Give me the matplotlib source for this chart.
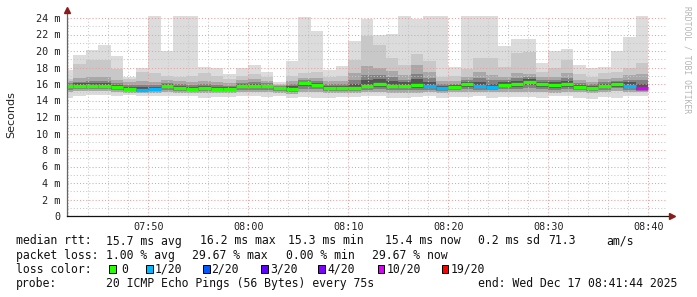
import matplotlib
matplotlib.use("Agg")
import matplotlib.pyplot as plt
import matplotlib.dates as mdates
from matplotlib.patches import Rectangle
from matplotlib.ticker import MultipleLocator, FuncFormatter
import numpy as np
import pandas as pd

# one bin every 75 s, last bin ends 08:40:00
bin_end = pd.date_range(end="2025-12-17 08:40:00", periods=47, freq="75s")
step = pd.Timedelta(seconds=75)

# median rtt per bin (ms)
median_ms = [15.7, 15.8, 15.8, 15.8, 15.6, 15.4, 15.3, 15.4, 15.7, 15.5,
             15.4, 15.5, 15.4, 15.4, 15.7, 15.8, 15.7, 15.5, 15.4, 16.1,
             15.9, 15.5, 15.5, 15.5, 15.8, 16.0, 15.8, 15.8, 15.9, 15.8,
             15.5, 15.6, 16.0, 15.8, 15.6, 15.9, 16.0, 16.3, 16.0, 15.9,
             16.0, 15.6, 15.5, 15.8, 16.0, 15.8, 15.5]
# packet loss per bin (%)
loss_pct = [0, 0, 0, 0, 0, 0, 5, 5, 0, 0,
            0, 0, 0, 0, 0, 0, 0, 0, 0, 0,
            0, 0, 0, 0, 0, 0, 0, 0, 0, 5,
            5, 0, 0, 5, 5, 0, 0, 0, 0, 0,
            0, 0, 0, 0, 0, 5, 29.67]
# smoke: spread of the 20 pings per bin (ms)
ping_max = [17.7, 19.5, 20.1, 20.7, 19.4, 16.9, 18.0, 24.3, 20.0, 24.3,
            24.3, 18.0, 17.9, 17.2, 18.0, 18.3, 17.4, 16.2, 18.8, 24.1,
            22.4, 17.7, 18.2, 21.2, 23.9, 22.0, 22.0, 24.2, 23.9, 24.3,
            24.3, 18.1, 24.3, 24.3, 24.3, 20.6, 21.4, 21.5, 18.6, 20.0,
            20.3, 18.3, 18.0, 18.1, 20.0, 21.7, 24.3]
ping_p90 = [16.6, 18.4, 18.9, 18.9, 17.8, 16.6, 17.5, 17.3, 17.0, 16.9,
            17.0, 17.3, 17.0, 16.6, 17.0, 17.2, 16.9, 16.0, 17.0, 17.3,
            17.5, 16.9, 17.0, 18.9, 21.8, 20.7, 19.1, 18.3, 19.6, 18.8,
            16.9, 17.0, 17.8, 19.1, 19.1, 18.1, 19.7, 19.9, 17.5, 18.0,
            18.9, 17.2, 16.9, 17.3, 17.5, 18.0, 18.6]
ping_hi = [16.4, 16.7, 16.8, 16.9, 16.5, 16.2, 16.4, 16.3, 16.5, 16.4,
           16.3, 16.4, 16.3, 16.1, 16.5, 16.6, 16.4, 15.9, 16.4, 16.7,
           16.7, 16.4, 16.4, 17.3, 18.2, 17.9, 17.6, 17.1, 18.3, 17.4,
           16.4, 16.4, 16.9, 17.4, 17.1, 16.9, 17.3, 17.2, 16.9, 16.9,
           17.3, 16.5, 16.3, 16.6, 16.7, 17.1, 17.2]
ping_lo = [15.0, 15.1, 15.1, 15.1, 15.0, 14.9, 14.9, 14.9, 15.0, 14.9,
           14.9, 14.9, 14.9, 14.9, 15.0, 15.0, 15.0, 14.9, 14.8, 15.0,
           15.0, 14.9, 14.9, 14.9, 15.0, 15.0, 14.9, 14.9, 14.9, 15.0,
           14.9, 15.0, 15.0, 15.0, 15.0, 15.0, 15.0, 15.0, 15.0, 14.9,
           15.0, 15.0, 14.9, 15.0, 15.1, 15.0, 15.0]
ping_min = [14.3, 14.6, 14.7, 14.7, 14.5, 14.7, 14.6, 14.5, 14.6, 14.5,
            14.5, 14.3, 14.4, 14.4, 14.5, 14.5, 14.4, 14.6, 14.3, 14.4,
            14.3, 14.3, 14.4, 14.4, 14.5, 14.5, 14.3, 14.3, 14.4, 14.6,
            14.3, 14.4, 14.4, 14.5, 14.3, 14.4, 14.4, 14.4, 14.3, 14.5,
            14.5, 14.3, 14.2, 14.4, 14.3, 14.6, 14.5]

loss_steps = [0, 1, 2, 3, 4, 10, 19]
loss_colors = ["#26ff00", "#00b8ff", "#0059ff", "#5e00ff", "#7e00ff", "#dd00ff", "#ff0000"]
loss_labels = ["0", "1/20", "2/20", "3/20", "4/20", "10/20", "19/20"]

W, H = 697, 297
fig = plt.figure(figsize=(W / 100, H / 100), dpi=100)
fig.patch.set_facecolor("white")
ax = fig.add_axes([66.7 / W, 81 / H, 600 / W, 200 / H])
ax.set_facecolor("white")

starts = mdates.date2num(bin_end - step)
ends = mdates.date2num(bin_end)
width = ends[0] - starts[0]
med = np.array(median_ms)
lo = np.array(ping_lo)
hi = np.array(ping_hi)

def band(bottom, top, color):
    bottom = np.asarray(bottom)
    top = np.asarray(top)
    ax.bar(starts, top - bottom, width=width, bottom=bottom, align="edge",
           color=color, linewidth=0, zorder=1)

# smoke, light outside -> dark near the median
band(ping_min, ping_max, "#dcdcdc")
band(lo, ping_p90, "#c8c8c8")
band(lo, hi, "#a8a8a8")
band(med - 0.6 * (med - lo), med + 0.55 * (hi - med), "#828282")
band(med - 0.35 * (med - lo), med + 0.3 * (hi - med), "#555555")

def loss_color(p):
    n = round(p / 5)
    for s, c in zip(loss_steps, loss_colors):
        if n <= s:
            return c
    return loss_colors[-1]

ax.hlines(median_ms, starts, ends, colors=[loss_color(p) for p in loss_pct],
          lw=2.4, zorder=4)

# axes / grid
t0 = pd.Timestamp("2025-12-17 07:41:50")
ax.set_xlim(mdates.date2num(t0), mdates.date2num(t0 + pd.Timedelta(hours=1)))
ax.set_ylim(0, 200 / 8.25)
ax.xaxis.set_major_locator(mdates.MinuteLocator(byminute=range(0, 60, 10)))
ax.xaxis.set_minor_locator(mdates.MinuteLocator(byminute=range(0, 60, 2)))
ax.xaxis.set_major_formatter(mdates.DateFormatter("%H:%M"))
ax.yaxis.set_major_locator(MultipleLocator(2))
ax.yaxis.set_minor_locator(MultipleLocator(1))
ax.yaxis.set_major_formatter(FuncFormatter(lambda v, p: "0" if v == 0 else f"{v:.0f} m"))
ax.set_axisbelow(False)
ax.grid(which="major", color="#e8a0a0", linestyle=(0, (1, 2)), lw=0.75)
ax.grid(which="minor", color="#c8c8c8", linestyle=(0, (1, 2)), lw=0.75)
for s in ax.spines.values():
    s.set_visible(False)
ax.tick_params(which="both", length=0)
ax.tick_params(axis="y", pad=4.8)
ax.tick_params(axis="x", pad=4)
for lab in ax.get_xticklabels() + ax.get_yticklabels():
    lab.set_fontfamily("DejaVu Sans Mono")
    lab.set_fontsize(7.3)
    lab.set_color("#222222")

# axis lines with arrow heads
ax.plot([0, 0], [0, 1.025], transform=ax.transAxes, color="#666666", lw=0.9,
        clip_on=False, zorder=5)
ax.plot([0, 1.006], [0, 0], transform=ax.transAxes, color="#111111", lw=0.9,
        clip_on=False, zorder=5)
ax.plot(0, 1.03, marker="^", ms=4, color="#8b1a1a", transform=ax.transAxes,
        clip_on=False, zorder=6)
ax.plot(1.008, 0, marker=">", ms=4, color="#8b1a1a", transform=ax.transAxes,
        clip_on=False, zorder=6)

fig.text(11 / W, 1 - 115 / H, "Seconds", rotation=90, ha="center", va="center",
         fontsize=8, color="#222222", family="DejaVu Sans")
fig.text(687 / W, 1 - 60 / H, "RRDTOOL / TOBI OETIKER", rotation=270, ha="center",
         va="center", fontsize=5.8, color="#b4b4b4", family="DejaVu Sans Mono")

# legend lines, each chunk at its own x position (pixels)
mono = dict(family="DejaVu Sans Mono", fontsize=8.3, color="#111111", va="baseline")
def px(x, y):
    return x / W, 1 - y / H

rows = [
    (244.5, [(16, "median rtt:"), (106, "15.7 ms avg"), (200.5, "16.2 ms max"),
             (287.5, "15.3 ms min"), (385, "15.4 ms now"), (478.5, "0.2 ms sd"),
             (548.5, "71.3"), (606, "am/s")]),
    (258.6, [(16, "packet loss:"), (106, "1.00 % avg"), (192.5, "29.67 % max"),
             (286, "0.00 % min"), (371.5, "29.67 % now")]),
    (286.7, [(16, "probe:"), (106, "20 ICMP Echo Pings (56 Bytes) every 75s"),
             (478, "end: Wed Dec 17 08:41:44 2025")]),
]
for y, chunks in rows:
    for x, s in chunks:
        fig.text(*px(x, y), s, **mono)

fig.text(*px(16, 272.6), "loss color:", **mono)
box_x = [109, 146, 203, 261, 318, 377.5, 441.5]
text_x = [121, 155, 211.5, 270.5, 327, 386.5, 451]
for bx, tx, c, lab in zip(box_x, text_x, loss_colors, loss_labels):
    fig.patches.append(Rectangle(px(bx, 273), 6.5 / W, 8 / H, transform=fig.transFigure,
                                 facecolor=c, edgecolor="black", lw=0.7))
    fig.text(*px(tx, 272.6), lab, **mono)

fig.savefig("out.png", dpi=100)
